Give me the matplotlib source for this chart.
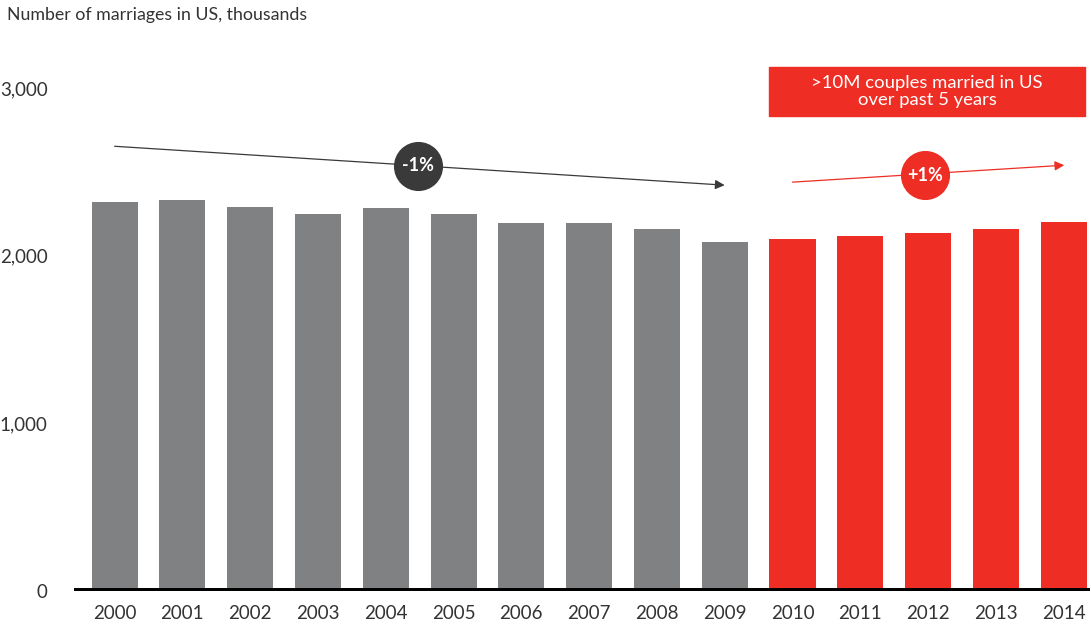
import numpy as np
import matplotlib.pyplot as plt
from matplotlib.patches import Rectangle

plt.rcParams['font.family'] = ['Lato', 'DejaVu Sans']

# marriages in the US, thousands
years = ['2000', '2001', '2002', '2003', '2004', '2005', '2006', '2007',
         '2008', '2009', '2010', '2011', '2012', '2013', '2014']
marriages = [2318, 2330, 2293, 2247, 2282, 2251, 2193, 2197,
             2158, 2082, 2098, 2120, 2133, 2162, 2200]
split = 10  # first year drawn in red

GREY = '#808183'
RED = '#EE2E24'
DARK = '#3A3A3A'
TEXT = '#333333'

fig = plt.figure(figsize=(10.91, 6.24), dpi=100)
ax = fig.add_axes([0.0678, 0.0529, 0.9313, 0.8462])

x = np.arange(len(years))
colors = [GREY if i < split else RED for i in range(len(years))]
ax.bar(x, marriages, width=0.68, color=colors, zorder=2)
ax.axhline(0, color='black', lw=4.3, zorder=3)

ax.set_xlim(-0.6, 14.39)
ax.set_ylim(0, 3150)
ax.set_yticks([0, 1000, 2000, 3000])
ax.set_yticklabels(['0', '1,000', '2,000', '3,000'])
ax.set_xticks(x)
ax.set_xticklabels(years)
ax.tick_params(axis='y', length=0, pad=19, labelsize=13.5, labelcolor=TEXT)
ax.tick_params(axis='x', length=0, pad=10, labelsize=13.5, labelcolor=TEXT)
for s in ax.spines.values():
    s.set_visible(False)

# trend arrows with CAGR bubbles
ax.annotate('', xy=(9.0, 2421), xytext=(0.0, 2653),
            arrowprops=dict(arrowstyle='-|>', color=DARK, lw=0.9,
                            mutation_scale=14, shrinkA=0, shrinkB=0), zorder=4)
ax.scatter([4.47], [2538], s=1250, color=DARK, zorder=5, linewidths=0)
ax.text(4.47, 2538, '-1%', color='white', fontsize=13, fontweight='bold',
        ha='center', va='center', zorder=6)

ax.annotate('', xy=(14.01, 2540), xytext=(10.0, 2439),
            arrowprops=dict(arrowstyle='-|>', color=RED, lw=0.9,
                            mutation_scale=14, shrinkA=0, shrinkB=0), zorder=4)
ax.scatter([11.96], [2481], s=1250, color=RED, zorder=5, linewidths=0)
ax.text(11.96, 2481, '+1%', color='white', fontsize=13, fontweight='bold',
        ha='center', va='center', zorder=6)

# callout box
ax.add_patch(Rectangle((9.66, 2832), 4.65, 293, color=RED, zorder=4, clip_on=False))
ax.text(11.985, 2978, '>10M couples married in US\nover past 5 years', color='white',
        fontsize=13.3, ha='center', va='center', linespacing=1.05, zorder=5)

fig.text(0.0064, 1 - 15 / 624, 'Number of marriages in US, thousands',
         fontsize=12.8, color=TEXT, ha='left', va='center')

fig.savefig('out.png', dpi=100)
